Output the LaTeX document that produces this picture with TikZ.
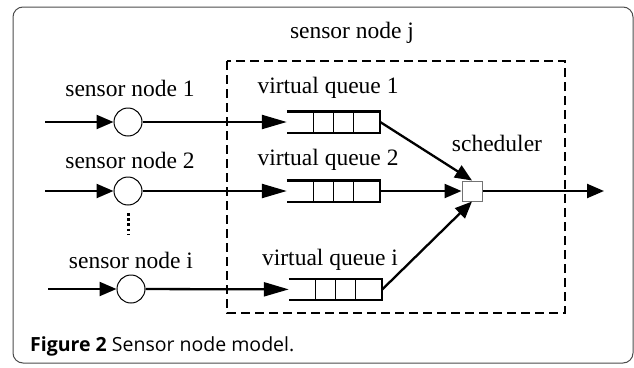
\documentclass[tikz,border=0pt]{standalone}
\usepackage{fontspec}
\setmainfont{Liberation Serif}
\newfontfamily\capfont{Open Sans}
\usetikzlibrary{arrows.meta,positioning}

\tikzset{
  lbl/.style={font=\fontsize{23.5}{28}\selectfont, inner sep=0pt},
  src/.style={draw, circle, line width=1pt, minimum size=28pt, inner sep=0pt, fill=white},
  queue/.style={minimum width=93pt, minimum height=21pt, inner sep=0pt},
  sched/.style={draw=black!55, line width=1pt, fill=white, minimum size=20pt, inner sep=0pt},
  arr/.style={line width=2.3pt, -{Triangle[length=17pt,width=14pt]}},
  longarr/.style={line width=2.3pt, -{Triangle[length=25pt,width=14pt]}},
}

\begin{document}
\begin{tikzpicture}[x=1pt,y=-1pt]
  \useasboundingbox (0,0) rectangle (634,367);
  \draw[black!70, line width=1pt, rounded corners=10pt] (13,7) rectangle (633,363);

  % host node
  \draw[line width=2.3pt, dash pattern=on 9pt off 5pt] (227,61) rectangle (565,313);
  \node[lbl](hostj) at (352,33) {sensor node j};

  % incoming sensor nodes
  \node[src](sn1) at (128,122) {};
  \node[src](sn2) at (128,191) {};
  \node[src](sni) at (131,289) {};
  \node[lbl](lsn1) at (130,88) {sensor node 1};
  \node[lbl](lsn2) at (130,160) {sensor node 2};
  \node[lbl](lsni) at (131,260) {sensor node i};
  \coordinate (in1) at (45,122);
  \coordinate (in2) at (45,191);
  \coordinate (ini) at (48,289);
  \coordinate (dtop) at (128,213);
  \coordinate (dbot) at (128,234);
  \draw[line width=3pt, dash pattern=on 2.6pt off 2.6pt] (dtop) -- (dbot);

  % virtual queues
  \node[queue](vq1) at (333.5,122) {};
  \node[queue](vq2) at (333.5,191) {};
  \node[queue](vqi) at (335.5,289.5) {};
  \node[lbl](lvq1) at (328,88) {virtual queue 1};
  \node[lbl](lvq2) at (328,160) {virtual queue 2};
  \node[lbl](lvqi) at (330,260) {virtual queue i};
  \foreach \q in {vq1,vq2,vqi} {
    \draw[line width=2.4pt] (\q.north west) -- (\q.north east) -- (\q.south east) -- (\q.south west);
    \foreach \d in {27,47,67}
      \draw[line width=1pt] ([xshift=\d pt]\q.north west) -- ([xshift=\d pt]\q.south west);
  }

  % scheduler
  \node[sched](sch) at (472,191) {};
  \node[lbl](lsch) at (497,143) {scheduler};
  \coordinate (out) at (604,191);

  \draw[arr] (in1) -- (sn1);
  \draw[arr] (in2) -- (sn2);
  \draw[arr] (ini) -- (sni);
  \draw[longarr] (sn1) -- (vq1);
  \draw[longarr] (sn2) -- (vq2);
  \draw[longarr] (sni) -- (vqi);
  \draw[arr] (vq1.east) -- (sch.north);
  \draw[arr] (vq2.east) -- (sch.west);
  \draw[arr] (vqi.east) -- (sch.south);
  \draw[arr] (sch.east) -- (out);

  \node[anchor=base west, inner sep=0pt, font=\capfont\fontsize{19.5}{22}\selectfont](cap) at (30,351)
    {\textbf{Figure 2} Sensor node model.};
\end{tikzpicture}
\end{document}
